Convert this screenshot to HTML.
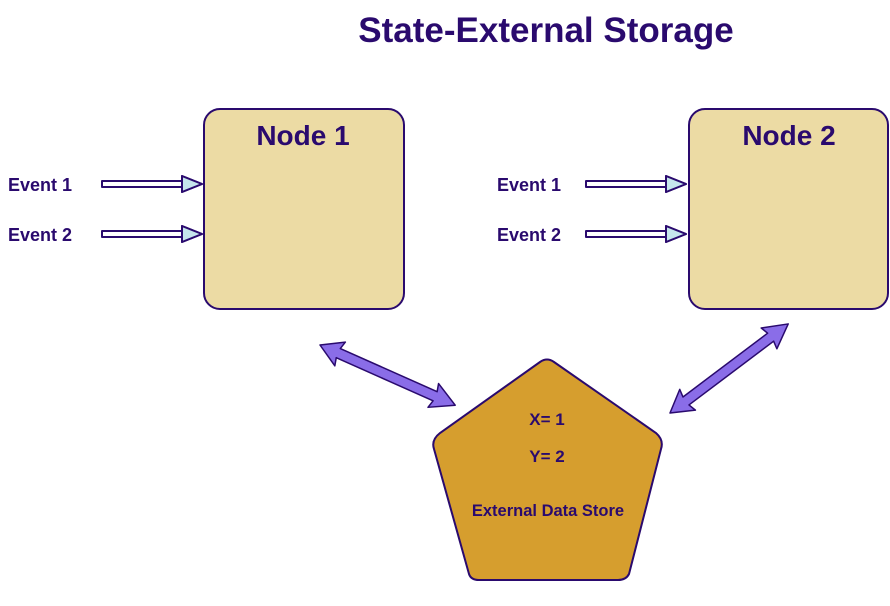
<!DOCTYPE html>
<html><head><style>body{margin:0;background:#fff}svg{display:block}text{font-family:"Liberation Sans",sans-serif;font-weight:bold;fill:#2a0a6e}</style></head><body>
<svg width="890" height="606" viewBox="0 0 890 606">
<text x="546" y="42" font-size="35" text-anchor="middle">State-External Storage</text>
<rect x="204" y="109" width="200" height="200" rx="16" fill="#ecdba4" stroke="#2a0a6e" stroke-width="2"/>
<rect x="689" y="109" width="199" height="200" rx="16" fill="#ecdba4" stroke="#2a0a6e" stroke-width="2"/>
<text x="303" y="145" font-size="28" text-anchor="middle">Node 1</text>
<text x="789" y="145" font-size="28" text-anchor="middle">Node 2</text>
<g font-size="18">
<text x="8" y="191">Event 1</text><text x="8" y="241">Event 2</text>
<text x="497" y="191">Event 1</text><text x="497" y="241">Event 2</text>
</g>
<defs><g id="ev">
<path d="M0,-3 H80 V-8 L100,0 L80,8 V3 H0 Z" fill="#fff" stroke="#2a0a6e" stroke-width="2" stroke-linejoin="round"/>
<path d="M80,-8 L100,0 L80,8 Z" fill="#c6e6ec" stroke="#2a0a6e" stroke-width="2" stroke-linejoin="round"/>
</g></defs>
<use href="#ev" x="102" y="184"/><use href="#ev" x="102" y="234"/>
<use href="#ev" x="586" y="184"/><use href="#ev" x="586" y="234"/>
<path d="M540,362 Q547,357 554,362 L656,433 Q664,440 661,449 L629,574 Q626,580 618,580 L479,580 Q471,580 469,574 L434,449 Q431,440 440,433 Z" fill="#d69e2e" stroke="#2a0a6e" stroke-width="2"/>
<text x="547" y="425" font-size="17" text-anchor="middle">X= 1</text>
<text x="547" y="462" font-size="17" text-anchor="middle">Y= 2</text>
<text x="548" y="516" font-size="16.5" text-anchor="middle">External Data Store</text>
<g fill="#8a6de8" stroke="#2a0a6e" stroke-width="1.5" stroke-linejoin="round">
<g transform="translate(320,345) rotate(24)"><path d="M0,0 L22,-13 L20,-5 L126,-5 L124,-13 L148,0 L124,13 L126,5 L20,5 L22,13 Z"/></g>
<g transform="translate(670,413) rotate(-37)"><path d="M0,0 L22,-13 L20,-5 L126,-5 L124,-13 L148,0 L124,13 L126,5 L20,5 L22,13 Z"/></g>
</g>
</svg>
</body></html>
